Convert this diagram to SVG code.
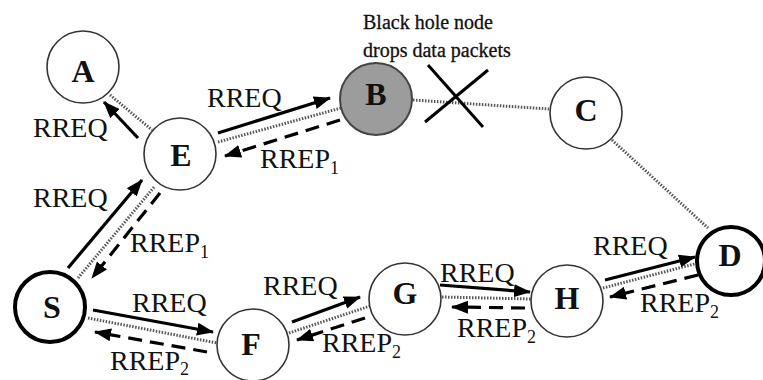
<svg xmlns="http://www.w3.org/2000/svg" width="763" height="380" viewBox="0 0 763 380">
<defs>
<marker id="ah" markerWidth="17" markerHeight="13" refX="16" refY="6.5" orient="auto" markerUnits="userSpaceOnUse">
<path d="M0,0 L17,6.5 L0,13 z" fill="#000"/>
</marker>
</defs>
<style>
.node{fill:#fff;stroke:#333;stroke-width:1.6}
.thick{stroke:#000;stroke-width:4}
.black{fill:#9c9c9c;stroke:#444;stroke-width:2}
.lt{font-family:"Liberation Serif","Times New Roman",serif;font-weight:bold;font-size:32px;fill:#111;text-anchor:middle}
.lbl{font-family:"Liberation Serif","Times New Roman",serif;font-size:28px;fill:#111}
.sub{font-size:18px}
.note{font-family:"Liberation Serif","Times New Roman",serif;font-size:20px;fill:#111;stroke:#111;stroke-width:0.3}
.dot{stroke:#555;stroke-width:3;stroke-dasharray:1.5 1.5;fill:none}
.req{stroke:#000;stroke-width:3.2;fill:none;marker-end:url(#ah)}
.rep{stroke:#000;stroke-width:3.2;fill:none;stroke-dasharray:14 8;marker-end:url(#ah)}
.x{stroke:#000;stroke-width:3}
</style>
<rect width="763" height="380" fill="#fff"/>
<g id="connectors">
<line class="dot" x1="110" y1="95" x2="152" y2="130"/>
<line class="dot" x1="218" y1="142" x2="341" y2="108"/>
<line class="dot" x1="413" y1="100" x2="549" y2="109"/>
<line class="dot" x1="612" y1="140" x2="708" y2="228"/>
<line class="dot" x1="78" y1="278" x2="155" y2="186"/>
<line class="dot" x1="88" y1="318" x2="217" y2="343"/>
<line class="dot" x1="289" y1="333" x2="370" y2="306"/>
<line class="dot" x1="442" y1="297" x2="531" y2="299"/>
<line class="dot" x1="603" y1="288" x2="698" y2="263"/>
<line class="req" x1="138" y1="138" x2="104" y2="102"/>
<line class="req" x1="218" y1="133" x2="330" y2="98"/>
<line class="rep" x1="340" y1="120" x2="225" y2="156"/>
<line class="req" x1="68" y1="268" x2="142" y2="180"/>
<line class="rep" x1="160" y1="193" x2="92" y2="278"/>
<line class="req" x1="93" y1="310" x2="213" y2="332"/>
<line class="rep" x1="207" y1="352" x2="95" y2="332"/>
<line class="req" x1="292" y1="322" x2="360" y2="297"/>
<line class="rep" x1="365" y1="318" x2="297" y2="340"/>
<line class="req" x1="440" y1="285" x2="530" y2="292"/>
<line class="rep" x1="525" y1="308" x2="452" y2="307"/>
<line class="req" x1="605" y1="280" x2="695" y2="257"/>
<line class="rep" x1="698" y1="275" x2="610" y2="297"/>
<line class="x" x1="428" y1="65" x2="483" y2="127"/>
<line class="x" x1="488" y1="70" x2="425" y2="122"/>
</g>
<g id="labels">
<text class="lbl" x="33" y="137">RREQ</text>
<text class="lbl" x="207" y="107">RREQ</text>
<text class="lbl" x="260" y="168">RREP<tspan class="sub" dy="6">1</tspan></text>
<text class="lbl" x="33" y="207">RREQ</text>
<text class="lbl" x="130" y="252">RREP<tspan class="sub" dy="6">1</tspan></text>
<text class="lbl" x="132" y="312">RREQ</text>
<text class="lbl" x="110" y="370">RREP<tspan class="sub" dy="5">2</tspan></text>
<text class="lbl" x="263" y="295">RREQ</text>
<text class="lbl" x="322" y="352">RREP<tspan class="sub" dy="6">2</tspan></text>
<text class="lbl" x="440" y="282">RREQ</text>
<text class="lbl" x="457" y="337">RREP<tspan class="sub" dy="6">2</tspan></text>
<text class="lbl" x="593" y="255">RREQ</text>
<text class="lbl" x="640" y="312">RREP<tspan class="sub" dy="6">2</tspan></text>
<text class="note" x="363" y="29">Black hole node</text>
<text class="note" x="363" y="57">drops data packets</text>
</g>
<g id="node-A"><circle class="node" cx="83" cy="67" r="36"/><text class="lt" x="83" y="82">A</text></g>
<g id="node-E"><circle class="node" cx="180" cy="154" r="36"/><text class="lt" x="181" y="166">E</text></g>
<g id="node-B"><circle class="black" cx="376" cy="99" r="36"/><text class="lt" x="376" y="105">B</text></g>
<g id="node-C"><circle class="node" cx="586" cy="113" r="36"/><text class="lt" x="586" y="121">C</text></g>
<g id="node-D"><circle class="node thick" cx="731" cy="261" r="34"/><text class="lt" x="730" y="266">D</text></g>
<g id="node-S"><circle class="node thick" cx="50" cy="307" r="35"/><text class="lt" x="52" y="318">S</text></g>
<g id="node-F"><circle class="node" cx="253" cy="345" r="36"/><text class="lt" x="251" y="355">F</text></g>
<g id="node-G"><circle class="node" cx="405" cy="299" r="36"/><text class="lt" x="405" y="304">G</text></g>
<g id="node-H"><circle class="node" cx="567" cy="301" r="36"/><text class="lt" x="567" y="309">H</text></g>
</svg>
